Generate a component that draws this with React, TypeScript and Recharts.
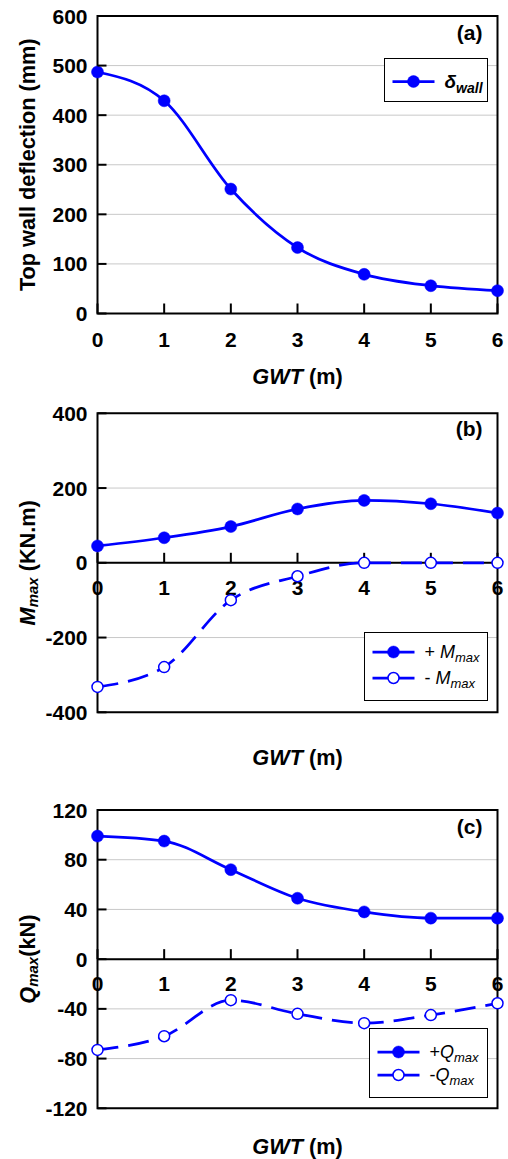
import React from 'react';
import {
  LineChart,
  Line,
  XAxis,
  YAxis,
  CartesianGrid,
  ReferenceArea,
  ReferenceLine,
  ReferenceDot,
  Legend,
} from 'recharts';

// ---------- data ----------
const gwt = [0, 1, 2, 3, 4, 5, 6];
const deflection = [487, 429, 251, 133, 79, 56, 46];
const mPos = [45, 67, 97, 144, 167, 158, 133];
const mNeg = [-332, -279, -100, -36, 0, 0, 0];
const qPos = [99, 95, 72, 49, 38, 33, 33];
const qNeg = [-73, -62, -33, -44, -51.5, -45, -35.5];

const xTicks = [0, 1, 2, 3, 4, 5, 6];
const yTicksA = [0, 100, 200, 300, 400, 500, 600];
const yTicksB = [-400, -200, 0, 200, 400];
const yTicksC = [-120, -80, -40, 0, 40, 80, 120];

const dataA = gwt.map((g, i) => ({ gwt: g, defl: deflection[i] }));
const dataB = gwt.map((g, i) => ({ gwt: g, pos: mPos[i], neg: mNeg[i] }));
const dataC = gwt.map((g, i) => ({ gwt: g, pos: qPos[i], neg: qNeg[i] }));

// ---------- styles ----------
const FONT = "'Liberation Sans', Arial, sans-serif";
const BLUE = '#0000ff';
const FS = 21;
const FT = 21.7;
const LW = 2.75;
const DASH = '21 10';

const YTick = (props: any) => {
  const { x, y, payload } = props;
  return (
    <g>
      <line x1={x} x2={x + 9} y1={y} y2={y} stroke="#000" strokeWidth={2} />
      <text
        x={x - 10}
        y={y}
        textAnchor="end"
        dominantBaseline="central"
        fontFamily={FONT}
        fontWeight="bold"
        fontSize={FS}
        fill="#000"
      >
        {payload.value}
      </text>
    </g>
  );
};

const xTickShape = (label: number, dy: number) => (p: any) => (
  <g>
    <line x1={p.cx} x2={p.cx} y1={p.cy} y2={p.cy - 10} stroke="#000" strokeWidth={2} />
    <text
      x={p.cx}
      y={p.cy + dy}
      textAnchor="middle"
      dominantBaseline="central"
      fontFamily={FONT}
      fontWeight="bold"
      fontSize={FS}
      fill="#000"
    >
      {label}
    </text>
  </g>
);

const XTitle = (props: any) => {
  const { viewBox, dy } = props;
  const cx = viewBox.x + viewBox.width / 2;
  const cy = viewBox.y + dy;
  return (
    <text
      x={cx}
      y={cy}
      textAnchor="middle"
      dominantBaseline="central"
      fontFamily={FONT}
      fontWeight="bold"
      fontSize={FT}
      fill="#000"
    >
      <tspan fontStyle="italic">GWT</tspan>
      <tspan> (m)</tspan>
    </text>
  );
};

const YTitle = (props: any) => {
  const { viewBox, kind } = props;
  const x = viewBox.x + 27;
  const y = viewBox.y + viewBox.height / 2;
  let content: any;
  if (kind === 'a') {
    content = <tspan>Top wall deflection (mm)</tspan>;
  } else if (kind === 'b') {
    content = (
      <>
        <tspan fontStyle="italic">M</tspan>
        <tspan fontStyle="italic" fontSize={15} dy={5}>max</tspan>
        <tspan dy={-5}> (KN.m)</tspan>
      </>
    );
  } else {
    content = (
      <>
        <tspan fontStyle="italic">Q</tspan>
        <tspan fontStyle="italic" fontSize={15} dy={5}>max</tspan>
        <tspan dy={-5}>(kN)</tspan>
      </>
    );
  }
  return (
    <text
      x={x}
      y={y}
      textAnchor="middle"
      dominantBaseline="central"
      transform={`rotate(-90, ${x}, ${y})`}
      fontFamily={FONT}
      fontWeight="bold"
      fontSize={FT}
      fill="#000"
    >
      {content}
    </text>
  );
};

const PanelLabel = (props: any) => {
  const { viewBox, text, dy } = props;
  return (
    <text
      x={viewBox.x + viewBox.width - 15}
      y={viewBox.y + dy}
      textAnchor="end"
      dominantBaseline="central"
      fontFamily={FONT}
      fontWeight="bold"
      fontSize={FS}
      fill="#000"
    >
      {text}
    </text>
  );
};

type Row = { y: number; filled: boolean; label: any };

const LegendBox = ({ width, height, rows }: { width: number; height: number; rows: Row[] }) => (
  <div
    style={{
      width,
      height,
      border: '1.5px solid #000',
      boxSizing: 'border-box',
      background: '#fff',
    }}
  >
    <svg width={width - 3} height={height - 3} style={{ display: 'block' }}>
      {rows.map((r, i) => (
        <g key={i}>
          <line x1={7.5} x2={49.5} y1={r.y} y2={r.y} stroke={BLUE} strokeWidth={LW} />
          <circle
            cx={28.5}
            cy={r.y}
            r={r.filled ? 6 : 5.5}
            fill={r.filled ? BLUE : '#fff'}
            stroke={BLUE}
            strokeWidth={r.filled ? 0.5 : 1.5}
          />
          <text x={59.5} y={r.y + 6} fontFamily={FONT} fontSize={18} fill="#000">
            {r.label}
          </text>
        </g>
      ))}
    </svg>
  </div>
);

const filledDot = { r: 6, fill: BLUE, stroke: BLUE, strokeWidth: 0.5 };
const openDot = { r: 5.5, fill: '#fff', stroke: BLUE, strokeWidth: 1.5, strokeDasharray: '0' };

const GRID = '#c8c8c8';

export default function App() {
  return (
    <div
      style={{
        position: 'absolute',
        left: 0,
        top: 0,
        width: 508,
        height: 1159,
        background: '#fff',
      }}
    >
      {/* Panel (a) */}
      <LineChart width={508} height={397} data={dataA} margin={{ top: 16, right: 10.5, left: 0, bottom: 0 }}>
        <CartesianGrid stroke={GRID} strokeWidth={1} />
        <XAxis
          type="number"
          dataKey="gwt"
          domain={[0, 6]}
          ticks={xTicks}
          tick={false}
          tickLine={false}
          axisLine={false}
          height={83.5}
          label={<XTitle dy={62} />}
        />
        <YAxis
          type="number"
          domain={[0, 600]}
          ticks={yTicksA}
          width={97.5}
          tickSize={0}
          tickMargin={0}
          axisLine={false}
          tick={<YTick />}
          label={<YTitle kind="a" />}
        />
        <ReferenceArea
          x1={0}
          x2={6}
          y1={0}
          y2={600}
          fill="none"
          stroke="#000"
          strokeWidth={2}
          label={<PanelLabel text="(a)" dy={16} />}
        />
        {xTicks.map((t) => (
          <ReferenceDot key={t} x={t} y={0} r={0} shape={xTickShape(t, 25.5)} />
        ))}
        <Line
          type="monotone"
          dataKey="defl"
          stroke={BLUE}
          strokeWidth={LW}
          dot={filledDot}
          isAnimationActive={false}
        />
        <Legend
          layout="horizontal"
          verticalAlign="middle"
          align="center"
          wrapperStyle={{ left: 384, top: 57.7, width: 104, height: 44 }}
          content={() => (
            <LegendBox
              width={104}
              height={44}
              rows={[
                {
                  y: 22.5,
                  filled: true,
                  label: (
                    <>
                      <tspan fontWeight="bold" fontStyle="italic" fontSize={19}>δ</tspan>
                      <tspan fontWeight="bold" fontStyle="italic" fontSize={14} dy={5}>wall</tspan>
                    </>
                  ),
                },
              ]}
            />
          )}
        />
      </LineChart>

      {/* Panel (b) */}
      <LineChart width={508} height={397} data={dataB} margin={{ top: 16.3, right: 10.5, left: 0, bottom: 0 }}>
        <CartesianGrid stroke={GRID} strokeWidth={1} />
        <XAxis
          type="number"
          dataKey="gwt"
          domain={[0, 6]}
          ticks={xTicks}
          tick={false}
          tickLine={false}
          axisLine={false}
          height={81.7}
          label={<XTitle dy={44.4} />}
        />
        <YAxis
          type="number"
          domain={[-400, 400]}
          ticks={yTicksB}
          width={97.5}
          tickSize={0}
          tickMargin={0}
          axisLine={false}
          tick={<YTick />}
          label={<YTitle kind="b" />}
        />
        <ReferenceArea
          x1={0}
          x2={6}
          y1={-400}
          y2={400}
          fill="none"
          stroke="#000"
          strokeWidth={2}
          label={<PanelLabel text="(b)" dy={15} />}
        />
        <ReferenceLine y={0} stroke="#000" strokeWidth={2} />
        {xTicks.map((t) => (
          <ReferenceDot key={t} x={t} y={0} r={0} shape={xTickShape(t, 25)} />
        ))}
        <Line
          type="monotone"
          dataKey="pos"
          stroke={BLUE}
          strokeWidth={LW}
          dot={filledDot}
          isAnimationActive={false}
        />
        <Line
          type="monotone"
          dataKey="neg"
          stroke={BLUE}
          strokeWidth={LW}
          strokeDasharray={DASH}
          dot={openDot}
          isAnimationActive={false}
        />
        <Legend
          layout="horizontal"
          verticalAlign="middle"
          align="center"
          wrapperStyle={{ left: 364, top: 234.7, width: 124, height: 69 }}
          content={() => (
            <LegendBox
              width={124}
              height={69}
              rows={[
                {
                  y: 19,
                  filled: true,
                  label: (
                    <>
                      <tspan>+ </tspan>
                      <tspan fontStyle="italic">M</tspan>
                      <tspan fontStyle="italic" fontSize={13} dy={4}>max</tspan>
                    </>
                  ),
                },
                {
                  y: 45,
                  filled: false,
                  label: (
                    <>
                      <tspan>- </tspan>
                      <tspan fontStyle="italic">M</tspan>
                      <tspan fontStyle="italic" fontSize={13} dy={4}>max</tspan>
                    </>
                  ),
                },
              ]}
            />
          )}
        />
      </LineChart>

      {/* Panel (c) */}
      <LineChart width={508} height={365} data={dataC} margin={{ top: 16, right: 10.5, left: 0, bottom: 0 }}>
        <CartesianGrid stroke={GRID} strokeWidth={1} />
        <XAxis
          type="number"
          dataKey="gwt"
          domain={[0, 6]}
          ticks={xTicks}
          tick={false}
          tickLine={false}
          axisLine={false}
          height={50.7}
          label={<XTitle dy={37.4} />}
        />
        <YAxis
          type="number"
          domain={[-120, 120]}
          ticks={yTicksC}
          width={97.5}
          tickSize={0}
          tickMargin={0}
          axisLine={false}
          tick={<YTick />}
          label={<YTitle kind="c" />}
        />
        <ReferenceArea
          x1={0}
          x2={6}
          y1={-120}
          y2={120}
          fill="none"
          stroke="#000"
          strokeWidth={2}
          label={<PanelLabel text="(c)" dy={16} />}
        />
        <ReferenceLine y={0} stroke="#000" strokeWidth={2} />
        {xTicks.map((t) => (
          <ReferenceDot key={t} x={t} y={0} r={0} shape={xTickShape(t, 24)} />
        ))}
        <Line
          type="monotone"
          dataKey="pos"
          stroke={BLUE}
          strokeWidth={LW}
          dot={filledDot}
          isAnimationActive={false}
        />
        <Line
          type="monotone"
          dataKey="neg"
          stroke={BLUE}
          strokeWidth={LW}
          strokeDasharray={DASH}
          dot={openDot}
          isAnimationActive={false}
        />
        <Legend
          layout="horizontal"
          verticalAlign="middle"
          align="center"
          wrapperStyle={{ left: 369, top: 234, width: 119, height: 70 }}
          content={() => (
            <LegendBox
              width={119}
              height={70}
              rows={[
                {
                  y: 23,
                  filled: true,
                  label: (
                    <>
                      <tspan>+</tspan>
                      <tspan fontStyle="italic">Q</tspan>
                      <tspan fontStyle="italic" fontSize={13} dy={4}>max</tspan>
                    </>
                  ),
                },
                {
                  y: 46,
                  filled: false,
                  label: (
                    <>
                      <tspan>-</tspan>
                      <tspan fontStyle="italic">Q</tspan>
                      <tspan fontStyle="italic" fontSize={13} dy={4}>max</tspan>
                    </>
                  ),
                },
              ]}
            />
          )}
        />
      </LineChart>
    </div>
  );
}
